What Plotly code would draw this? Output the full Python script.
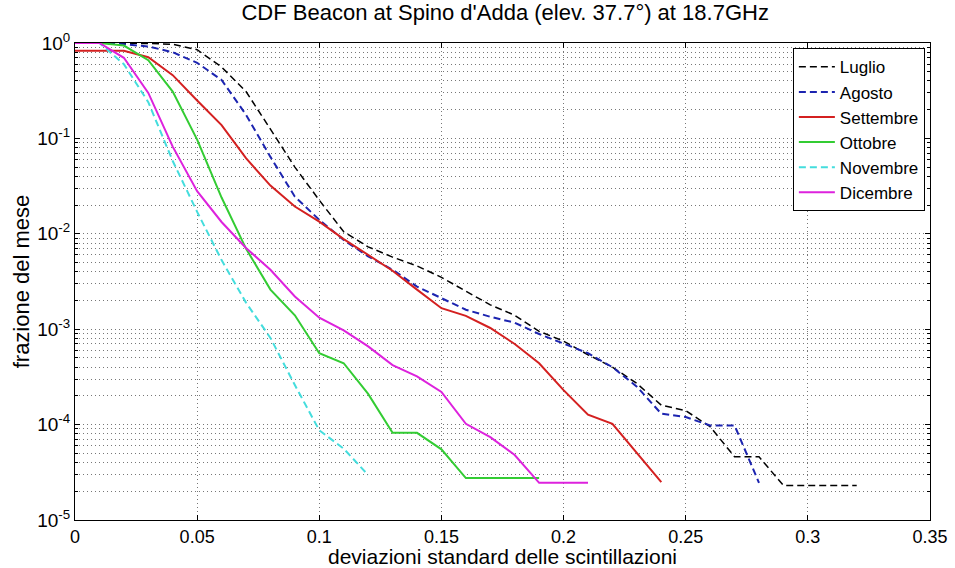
import plotly.graph_objects as go

# x grid (deviazioni standard), step 0.01
x_vals = [0.00, 0.01, 0.02, 0.03, 0.04, 0.05, 0.06, 0.07, 0.08, 0.09,
          0.10, 0.11, 0.12, 0.13, 0.14, 0.15, 0.16, 0.17, 0.18, 0.19,
          0.20, 0.21, 0.22, 0.23, 0.24, 0.25, 0.26, 0.27, 0.28, 0.29,
          0.30, 0.31, 0.32]

luglio = [1, 1, 1, 0.99, 0.97, 0.85, 0.56, 0.31, 0.125, 0.05, 0.0225, 0.0105,
          0.0073, 0.0057, 0.0046, 0.0035, 0.0025, 0.0018, 0.0014, 0.00095,
          0.00075, 0.00054, 0.0004, 0.00027, 0.00016, 0.00014, 0.000095,
          0.000046, 0.000046, 0.000023, 0.000023, 0.000023, 0.000023]
agosto = [1, 1, 0.97, 0.92, 0.8, 0.62, 0.41, 0.177, 0.064, 0.0245, 0.014,
          0.0086, 0.0058, 0.0042, 0.0028, 0.0021, 0.0016, 0.00135, 0.00117,
          0.00089, 0.00071, 0.00056, 0.0004, 0.00025, 0.00013, 0.00012,
          0.000098, 0.000098, 0.0000245]
settembre = [0.83, 0.83, 0.83, 0.71, 0.46, 0.25, 0.138, 0.062, 0.032, 0.0193,
             0.0134, 0.0088, 0.006, 0.0041, 0.0026, 0.00166, 0.00138, 0.00103,
             0.0007, 0.00044, 0.00023, 0.000127, 0.000102, 0.00005, 0.000025]
ottobre = [1, 1, 0.94, 0.66, 0.31, 0.097, 0.024, 0.007, 0.0026, 0.0014,
           0.00056, 0.00044, 0.00021, 0.000082, 0.000082, 0.000055,
           0.0000275, 0.0000275, 0.0000275, 0.0000275]
novembre = [1, 1, 0.6, 0.24, 0.058, 0.017, 0.0053, 0.0019, 0.00081, 0.00026,
            0.000087, 0.000056, 0.0000296]
dicembre = [1, 1, 0.7, 0.3, 0.082, 0.028, 0.0133, 0.0071, 0.0042, 0.0022,
            0.00132, 0.00097, 0.00066, 0.00042, 0.00032, 0.00022, 0.000102,
            0.000074, 0.000048, 0.0000245, 0.0000245, 0.0000245]

series_names = ["Luglio", "Agosto", "Settembre", "Ottobre", "Novembre", "Dicembre"]
series_vals = [luglio, agosto, settembre, ottobre, novembre, dicembre]
colors = ["#000000", "#1c24b0", "#d42020", "#33cc33", "#44dddd", "#dd22dd"]
dashes = ["7px,4px", "7px,4px", "solid", "solid", "7px,4px", "solid"]
widths = [1.5, 2, 2, 2, 2, 2]

x_ticks = [0, 0.05, 0.1, 0.15, 0.2, 0.25, 0.3, 0.35]
decades = [-5, -4, -3, -2, -1, 0]

fig = go.Figure()
for name, vals, c, d, w in zip(series_names, series_vals, colors, dashes, widths):
    fig.add_trace(go.Scatter(
        x=x_vals[:len(vals)], y=vals, mode="lines", name=name,
        line=dict(color=c, dash=d, width=w)))

y_major = [10.0 ** e for e in decades]
y_major_text = [f"10<sup>{e}</sup>" for e in decades]
y_minor = [m * 10.0 ** e for e in decades[:-1] for m in range(2, 10)]

font_family = "Liberation Sans, Arial, sans-serif"
grid_style = dict(showgrid=True, gridcolor="#777", griddash="1px,3px", gridwidth=1)
fig.update_layout(
    width=955, height=568,
    margin=dict(l=75, r=25, t=43, b=48),
    paper_bgcolor="white", plot_bgcolor="white",
    font=dict(family=font_family, color="black", size=18),
    title=dict(text="CDF Beacon at Spino d'Adda (elev. 37.7°) at 18.7GHz",
               x=0.529, xanchor="center", y=0.978, yanchor="middle",
               font=dict(size=22, family=font_family)),
    showlegend=True,
    legend=dict(x=0.994, y=0.989, xanchor="right", yanchor="top",
                bgcolor="white", bordercolor="black", borderwidth=1,
                font=dict(size=17, family=font_family),
                tracegroupgap=0, itemwidth=36),
)
fig.update_xaxes(
    range=[0, 0.35], tickvals=x_ticks,
    ticktext=[f"{v:g}" for v in x_ticks],
    zeroline=False, showline=True, linecolor="black", linewidth=1,
    mirror="allticks", ticks="inside", ticklen=5, tickcolor="black",
    tickfont=dict(size=18), automargin=False,
    title=dict(text="deviazioni standard delle scintillazioni",
               font=dict(size=21), standoff=0),
    **grid_style,
)
fig.update_yaxes(
    type="log", range=[-5, 0], tickvals=y_major, ticktext=y_major_text,
    zeroline=False, showline=True, linecolor="black", linewidth=1,
    mirror="allticks", ticks="inside", ticklen=5, tickcolor="black",
    tickfont=dict(size=19), automargin=False,
    minor=dict(tickmode="array", tickvals=y_minor, ticks="inside", ticklen=3,
               tickcolor="black", **grid_style),
    title=dict(text="frazione del mese", font=dict(size=22), standoff=1),
    **grid_style,
)

fig.write_html("out.html")
